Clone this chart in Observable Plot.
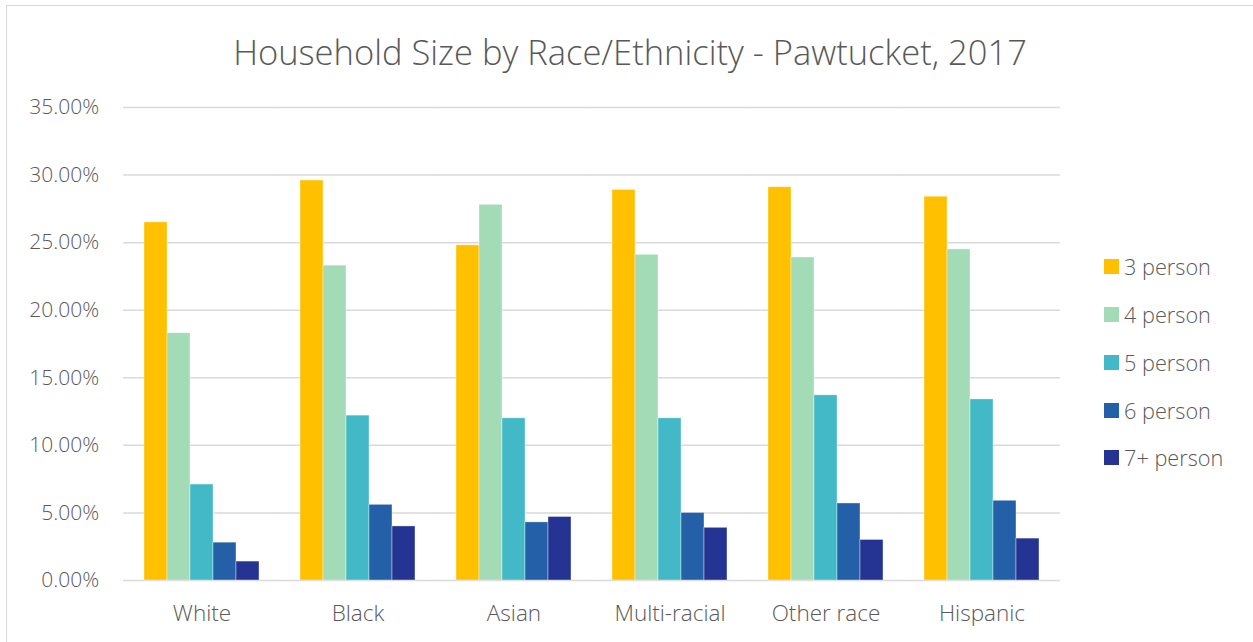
<!DOCTYPE html>
<html>
<head>
<meta charset="utf-8">
<script src="https://cdn.jsdelivr.net/npm/d3@7"></script>
<script src="https://cdn.jsdelivr.net/npm/@observablehq/plot@0.6"></script>
<style>
  html, body { margin: 0; padding: 0; background: #fff; overflow: hidden; }
  body { width: 1253px; height: 642px; position: relative; font-family: "Open Sans", sans-serif; }
  #frame { position: absolute; left: 6px; top: 5px; width: 1300px; height: 700px;
           border-left: 1px solid #d9d9d9; border-top: 1px solid #d9d9d9; }
  #title { position: absolute; left: 0; top: 0; width: 1246px; height: 84px; line-height: 92px;
           text-align: center; font-size: 34.5px; font-weight: 300; color: #595959; white-space: nowrap; }
  #chart { position: absolute; left: 0; top: 84px; }
  #legend { position: absolute; left: 1097px; top: 237px; }
  .item { height: 47.75px; display: flex; align-items: center; font-size: 21.7px; font-weight: 300; color: #595959; }
  .sw { width: 15px; height: 15px; margin-right: 5px; }
</style>
</head>
<body>
<div id="frame">
  <div id="title">Household Size by Race/Ethnicity - Pawtucket, 2017</div>
  <div id="chart"></div>
  <div id="legend"></div>
</div>
<script>
const races = ["White", "Black", "Asian", "Multi-racial", "Other race", "Hispanic"];
const sizes = ["3 person", "4 person", "5 person", "6 person", "7+ person"];
const colors = ["#FFC000", "#A3DBB6", "#43B8C6", "#2360A8", "#253492"];
const person3 = [26.5, 29.6, 24.8, 28.9, 29.1, 28.4];
const person4 = [18.3, 23.3, 27.8, 24.1, 23.9, 24.5];
const person5 = [7.1, 12.2, 12.0, 12.0, 13.7, 13.4];
const person6 = [2.8, 5.6, 4.3, 5.0, 5.7, 5.9];
const person7 = [1.4, 4.0, 4.7, 3.9, 3.0, 3.1];
const yTicks = [0, 5, 10, 15, 20, 25, 30, 35];

const series = [person3, person4, person5, person6, person7];
const data = [];
series.forEach((vals, i) => vals.forEach((v, j) => data.push({race: races[j], size: sizes[i], value: v})));

const W = 1246, ML = 115, MR = 191, PAD = 0.234;
const step = (W - ML - MR) / races.length;
const gapHalf = step * PAD / 2;

const plot = Plot.plot({
  width: W,
  height: 552,
  marginTop: 17,
  marginBottom: 62,
  marginLeft: ML,
  marginRight: MR,
  style: {fontFamily: "Open Sans", fontWeight: 300, color: "#595959", background: "transparent"},
  fx: {domain: races, paddingInner: PAD, paddingOuter: PAD / 2, axis: null},
  x: {domain: sizes, padding: 0, axis: null},
  y: {domain: [0, 35], axis: null},
  color: {domain: sizes, range: colors},
  marks: [
    Plot.ruleY(yTicks, {stroke: "#d9d9d9", strokeWidth: 1.5, insetLeft: -gapHalf - 0.5, insetRight: -gapHalf - 0.5}),
    Plot.axisY({ticks: yTicks, tickSize: 0, tickPadding: 25 + gapHalf, tickFormat: d => d.toFixed(2) + "%", fontSize: 21, label: null}),
    Plot.axisFx({anchor: "bottom", tickSize: 0, tickPadding: 25, fontSize: 22.5, label: null}),
    Plot.barY(data, {fx: "race", x: "size", y: "value", fill: "size", stroke: "white", strokeOpacity: 0.5, strokeWidth: 0.75})
  ]
});
document.getElementById("chart").appendChild(plot);

const legend = document.getElementById("legend");
sizes.forEach((s, i) => {
  const item = document.createElement("div");
  item.className = "item";
  const sw = document.createElement("div");
  sw.className = "sw";
  sw.style.background = colors[i];
  const t = document.createElement("span");
  t.textContent = s;
  item.appendChild(sw);
  item.appendChild(t);
  legend.appendChild(item);
});
</script>
</body>
</html>
